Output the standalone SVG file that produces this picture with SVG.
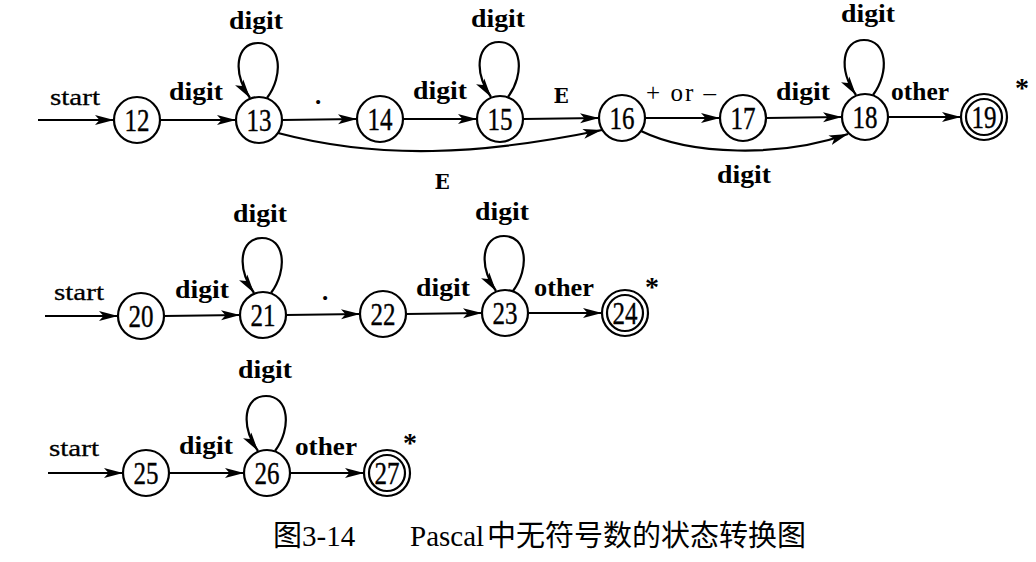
<svg xmlns="http://www.w3.org/2000/svg" width="1036" height="562" viewBox="0 0 1036 562">
<style>
.n{fill:#fff;stroke:#000;stroke-width:2.2}
.num{font-family:"Liberation Serif",serif;font-size:32px;text-anchor:middle;stroke:#000;stroke-width:0.4}
.lb{font-family:"Liberation Serif",serif;font-weight:bold;font-size:25px;text-anchor:middle}
.st{font-family:"Liberation Serif",serif;font-size:24px;text-anchor:middle;stroke:#000;stroke-width:0.3}
.sym{font-family:"Liberation Serif",serif;font-size:25px;text-anchor:middle}
.mono{font-family:"DejaVu Serif",serif;font-weight:bold;font-size:20px;text-anchor:middle}
.ast{font-family:"Liberation Serif",serif;font-weight:bold;font-size:28px;text-anchor:middle}
.e{fill:none;stroke:#000;stroke-width:2.2;marker-end:url(#arr)}
.cap{font-family:"Liberation Serif","Noto Sans CJK SC",serif;font-size:29px}
.cjk{font-family:"Noto Sans CJK SC",sans-serif}
</style>
<defs>
<marker id="arr" markerUnits="userSpaceOnUse" markerWidth="20" markerHeight="12" refX="19" refY="6" orient="auto">
<path d="M0,1 L19,6 L0,11 L4.5,6 z" fill="#000"/>
</marker>
</defs>
<g id="connectors">
<path class="e" d="M38,120 L114,120"/>
<path class="e" d="M160,120 L236,120"/>
<path class="e" d="M282,120 L357,119"/>
<path class="e" d="M403,119 L477,119"/>
<path class="e" d="M523,119 L599,118"/>
<path class="e" d="M645,118 L720,118"/>
<path class="e" d="M766,118 L842,117"/>
<path class="e" d="M888,117 L961,117"/>
<path class="e" d="M278,133 C380,160 480,155 602,130"/>
<path class="e" d="M641,131 C690,155 780,158 848,134"/>
<path class="e" d="M267,98 C284,75 281,43 258,43 C236,43 232,72 250,98"/>
<path class="e" d="M508,97 C525,74 522,42 499,42 C477,42 473,71 491,97"/>
<path class="e" d="M873,95 C890,72 887,40 864,40 C842,40 838,69 856,95"/>
<path class="e" d="M45,316 L118,316"/>
<path class="e" d="M164,316 L240,315"/>
<path class="e" d="M286,315 L360,314"/>
<path class="e" d="M406,314 L482,313"/>
<path class="e" d="M528,313 L602,313"/>
<path class="e" d="M271,293 C288,270 285,238 262,238 C240,238 236,267 254,293"/>
<path class="e" d="M513,291 C530,268 527,236 504,236 C482,236 478,265 496,291"/>
<path class="e" d="M48,473 L123,473"/>
<path class="e" d="M169,473 L244,473"/>
<path class="e" d="M290,473 L364,473"/>
<path class="e" d="M275,451 C292,428 289,396 266,396 C244,396 240,425 258,451"/>
</g>
<g id="labels">
<text class="st" x="75" y="105" textLength="50" lengthAdjust="spacingAndGlyphs">start</text>
<text class="lb" x="196" y="100" textLength="54" lengthAdjust="spacingAndGlyphs">digit</text>
<text class="lb" x="256" y="29" textLength="54" lengthAdjust="spacingAndGlyphs">digit</text>
<text class="lb" x="318" y="104">.</text>
<text class="lb" x="440" y="99" textLength="54" lengthAdjust="spacingAndGlyphs">digit</text>
<text class="lb" x="498" y="27" textLength="54" lengthAdjust="spacingAndGlyphs">digit</text>
<text class="mono" x="561" y="103">E</text>
<text class="sym" x="681" y="101" textLength="70" lengthAdjust="spacing">+ or –</text>
<text class="lb" x="803" y="100" textLength="54" lengthAdjust="spacingAndGlyphs">digit</text>
<text class="lb" x="868" y="22" textLength="54" lengthAdjust="spacingAndGlyphs">digit</text>
<text class="lb" x="920" y="100" textLength="58" lengthAdjust="spacingAndGlyphs">other</text>
<text class="ast" x="1022" y="97">*</text>
<text class="mono" x="442" y="189">E</text>
<text class="lb" x="744" y="183" textLength="54" lengthAdjust="spacingAndGlyphs">digit</text>
<text class="st" x="79" y="300" textLength="50" lengthAdjust="spacingAndGlyphs">start</text>
<text class="lb" x="202" y="298" textLength="54" lengthAdjust="spacingAndGlyphs">digit</text>
<text class="lb" x="260" y="222" textLength="54" lengthAdjust="spacingAndGlyphs">digit</text>
<text class="lb" x="325" y="300">.</text>
<text class="lb" x="443" y="296" textLength="54" lengthAdjust="spacingAndGlyphs">digit</text>
<text class="lb" x="502" y="220" textLength="54" lengthAdjust="spacingAndGlyphs">digit</text>
<text class="lb" x="564" y="296" textLength="60" lengthAdjust="spacingAndGlyphs">other</text>
<text class="ast" x="652" y="296">*</text>
<text class="st" x="74" y="456" textLength="50" lengthAdjust="spacingAndGlyphs">start</text>
<text class="lb" x="206" y="454" textLength="54" lengthAdjust="spacingAndGlyphs">digit</text>
<text class="lb" x="265" y="378" textLength="54" lengthAdjust="spacingAndGlyphs">digit</text>
<text class="lb" x="326" y="455" textLength="62" lengthAdjust="spacingAndGlyphs">other</text>
<text class="ast" x="410" y="452">*</text>
</g>
<g id="s12"><circle class="n" cx="137" cy="120" r="23"/><text class="num" x="137" y="131" textLength="25" lengthAdjust="spacingAndGlyphs">12</text></g>
<g id="s13"><circle class="n" cx="259" cy="120" r="23"/><text class="num" x="259" y="131" textLength="25" lengthAdjust="spacingAndGlyphs">13</text></g>
<g id="s14"><circle class="n" cx="380" cy="119" r="23"/><text class="num" x="380" y="130" textLength="25" lengthAdjust="spacingAndGlyphs">14</text></g>
<g id="s15"><circle class="n" cx="500" cy="119" r="23"/><text class="num" x="500" y="130" textLength="25" lengthAdjust="spacingAndGlyphs">15</text></g>
<g id="s16"><circle class="n" cx="622" cy="118" r="23"/><text class="num" x="622" y="129" textLength="25" lengthAdjust="spacingAndGlyphs">16</text></g>
<g id="s17"><circle class="n" cx="743" cy="118" r="23"/><text class="num" x="743" y="129" textLength="25" lengthAdjust="spacingAndGlyphs">17</text></g>
<g id="s18"><circle class="n" cx="865" cy="117" r="23"/><text class="num" x="865" y="128" textLength="25" lengthAdjust="spacingAndGlyphs">18</text></g>
<g id="s19"><circle class="n" cx="984" cy="117" r="23"/><circle class="n" cx="984" cy="117" r="18"/><text class="num" x="984" y="128" textLength="25" lengthAdjust="spacingAndGlyphs">19</text></g>
<g id="s20"><circle class="n" cx="141" cy="316" r="23"/><text class="num" x="141" y="327" textLength="25" lengthAdjust="spacingAndGlyphs">20</text></g>
<g id="s21"><circle class="n" cx="263" cy="315" r="23"/><text class="num" x="263" y="326" textLength="25" lengthAdjust="spacingAndGlyphs">21</text></g>
<g id="s22"><circle class="n" cx="383" cy="314" r="23"/><text class="num" x="383" y="325" textLength="25" lengthAdjust="spacingAndGlyphs">22</text></g>
<g id="s23"><circle class="n" cx="505" cy="313" r="23"/><text class="num" x="505" y="324" textLength="25" lengthAdjust="spacingAndGlyphs">23</text></g>
<g id="s24"><circle class="n" cx="625" cy="313" r="23"/><circle class="n" cx="625" cy="313" r="18"/><text class="num" x="625" y="324" textLength="25" lengthAdjust="spacingAndGlyphs">24</text></g>
<g id="s25"><circle class="n" cx="146" cy="473" r="23"/><text class="num" x="146" y="484" textLength="25" lengthAdjust="spacingAndGlyphs">25</text></g>
<g id="s26"><circle class="n" cx="267" cy="473" r="23"/><text class="num" x="267" y="484" textLength="25" lengthAdjust="spacingAndGlyphs">26</text></g>
<g id="s27"><circle class="n" cx="387" cy="473" r="23"/><circle class="n" cx="387" cy="473" r="18"/><text class="num" x="387" y="484" textLength="25" lengthAdjust="spacingAndGlyphs">27</text></g>
<g id="caption"><text class="cap" y="546"><tspan class="cjk" x="273">图</tspan><tspan x="302">3-14</tspan><tspan x="410">Pascal</tspan><tspan class="cjk" x="487">中无符号数的状态转换图</tspan></text></g>
</svg>
